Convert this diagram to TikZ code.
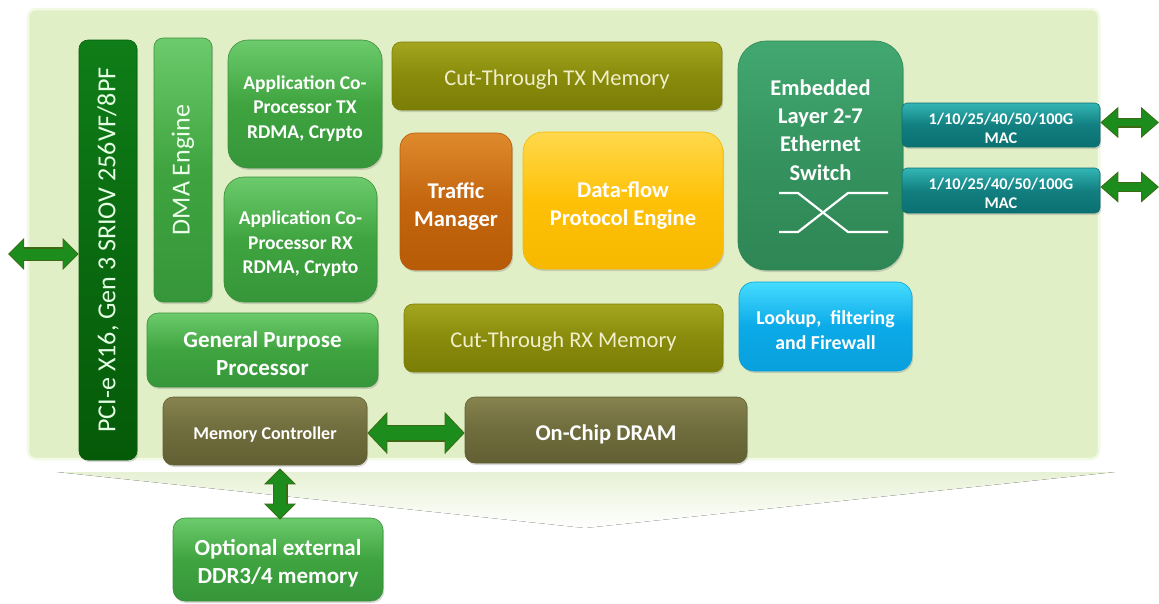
\documentclass[tikz,border=0pt]{standalone}
\usepackage{fontspec}
\setmainfont{Carlito}
\usetikzlibrary{arrows.meta,shadows,calc}

% palette
\definecolor{panelFill}{HTML}{E1EFC6}
\definecolor{panelEdge}{HTML}{F2F9E4}
\definecolor{funnelTop}{HTML}{E7F1D5}
\definecolor{gTop}{HTML}{6CCB6C}
\definecolor{gMid}{HTML}{3FA43F}
\definecolor{gBot}{HTML}{36963A}
\definecolor{gEdge}{HTML}{3B8F3B}
\definecolor{pTop}{HTML}{0F7D18}
\definecolor{pMid}{HTML}{0A6A10}
\definecolor{pBot}{HTML}{055A08}
\definecolor{oTop}{HTML}{A3A61E}
\definecolor{oMid}{HTML}{888B0B}
\definecolor{oBot}{HTML}{7B7E06}
\definecolor{bTop}{HTML}{86834F}
\definecolor{bMid}{HTML}{6F6C3D}
\definecolor{bBot}{HTML}{625F33}
\definecolor{tTop}{HTML}{DE8A2C}
\definecolor{tMid}{HTML}{C4660E}
\definecolor{tBot}{HTML}{B75B08}
\definecolor{yTop}{HTML}{FFD84C}
\definecolor{yMid}{HTML}{FFC107}
\definecolor{yBot}{HTML}{F7B800}
\definecolor{sTop}{HTML}{42A870}
\definecolor{sMid}{HTML}{35935F}
\definecolor{sBot}{HTML}{2E8655}
\definecolor{mTop}{HTML}{33B5B5}
\definecolor{mMid}{HTML}{127F80}
\definecolor{mBot}{HTML}{0B7071}
\definecolor{lTop}{HTML}{45DCFF}
\definecolor{lMid}{HTML}{0BAAE8}
\definecolor{lBot}{HTML}{08A0DC}
\definecolor{memText}{HTML}{F1EFCB}
\definecolor{arrFill}{HTML}{1C8C1C}
\definecolor{arrEdge}{HTML}{3C6A14}

\newcommand\fsz[2]{\fontsize{#1}{#2}\selectfont}
% invisible strut that lowers a block of text inside its box
\newcommand\lift[1]{\rule{0pt}{#1em}}

\tikzset{
  base/.style={inner sep=0pt, align=center, text=white, line width=0.6pt,
    drop shadow={shadow xshift=1.2pt, shadow yshift=-2pt, opacity=0.3}},
  greenbox/.style={base, draw=gEdge, top color=gTop, bottom color=gBot, middle color=gMid},
  pciebar/.style={base, draw=pBot, top color=pTop, bottom color=pBot, middle color=pMid},
  olivebox/.style={base, draw=oBot, top color=oTop, bottom color=oBot, middle color=oMid, text=memText},
  brownbox/.style={base, draw=bBot, top color=bTop, bottom color=bBot, middle color=bMid},
  orangebox/.style={base, draw=tBot, top color=tTop, bottom color=tBot, middle color=tMid},
  yellowbox/.style={base, draw=yBot, top color=yTop, bottom color=yBot, middle color=yMid},
  switchbox/.style={base, draw=sBot, top color=sTop, bottom color=sBot, middle color=sMid},
  macbox/.style={base, draw=mBot, top color=mTop, bottom color=mBot, middle color=mMid},
  lookbox/.style={base, draw=lBot, top color=lTop, bottom color=lBot, middle color=lMid},
  arrout/.style={draw=arrEdge, line width=#1},
  arrin/.style={draw=arrFill, line width=#1, shorten <=1.3pt, shorten >=1.3pt},
  switchline/.style={draw=white, line width=2.2pt},
}

\begin{document}
\begin{tikzpicture}[x=1pt, y=-1pt]
\useasboundingbox (0,0) rectangle (1159,603);

% soft funnel below the chip outline
\fill[top color=funnelTop, bottom color=white] (57,472) -- (1115,472) -- (585,528) -- cycle;

% chip outline
\draw[panelEdge, line width=2.5pt, fill=panelFill, rounded corners=8pt] (28,9) rectangle (1099,459);

% host side
\node[pciebar, rounded corners=9pt, minimum width=58pt, minimum height=420pt] (pcie) at (108,250) {};
\node[rotate=90, text=white!90!green, font=\fsz{26}{30}] (pcietxt) at (pcie.center) {PCI-e X16, Gen 3 SRIOV 256VF/8PF};

\node[greenbox, rounded corners=9pt, minimum width=58pt, minimum height=264pt] (dma) at (183,170) {};
\node[rotate=90, text=white!92!green, font=\fsz{26}{30}] (dmatxt) at (dma.center) {DMA Engine};

\node[greenbox, rounded corners=20pt, minimum width=154pt, minimum height=128pt,
  font=\bfseries\fsz{19.5}{24.5}] (apptx) at (305,104) {\lift{1.15}Application Co-\\Processor TX\\RDMA, Crypto};
\node[greenbox, rounded corners=20pt, minimum width=153pt, minimum height=125pt,
  font=\bfseries\fsz{19.5}{24.5}] (apprx) at (300.5,239.5) {\lift{1.15}Application Co-\\Processor RX\\RDMA, Crypto};

\node[greenbox, rounded corners=11pt, minimum width=231pt, minimum height=74pt,
  font=\bfseries\fsz{23}{28}] (gpp) at (262.5,350) {\lift{1.02}General Purpose\\Processor};

\node[brownbox, rounded corners=10pt, minimum width=204pt, minimum height=68pt,
  font=\bfseries\fsz{18}{22}] (mc) at (265,431) {\lift{1.15}Memory Controller};

\node[greenbox, rounded corners=12pt, minimum width=210pt, minimum height=83pt,
  font=\bfseries\fsz{23}{28}] (ext) at (278,559.5) {\lift{1.05}Optional external\\DDR3/4 memory};

% packet path
\node[olivebox, rounded corners=9pt, minimum width=330pt, minimum height=68pt,
  font=\fsz{22.5}{27}] (cuttx) at (557,76) {\lift{1.0}Cut-Through TX Memory};

\node[orangebox, rounded corners=15pt, minimum width=112pt, minimum height=137pt,
  font=\bfseries\fsz{22.5}{28}] (tm) at (456,201.5) {\lift{1.15}Traffic\\Manager};

\node[yellowbox, rounded corners=20pt, minimum width=200pt, minimum height=137pt,
  font=\bfseries\fsz{22.5}{28}] (df) at (623,200.5) {\lift{1.15}Data-flow\\Protocol Engine};

\node[olivebox, rounded corners=9pt, minimum width=319pt, minimum height=68pt,
  font=\fsz{22.5}{27}] (cutrx) at (563.5,338) {\lift{1.0}Cut-Through RX Memory};

\node[brownbox, rounded corners=10pt, minimum width=282pt, minimum height=66pt,
  font=\bfseries\fsz{22.5}{27}] (dram) at (606,430) {\lift{1.1}On-Chip DRAM};

% network side
\node[switchbox, rounded corners=28pt, minimum width=165pt, minimum height=229pt] (sw) at (820.5,155.5) {};
\node[text=white, align=center, font=\bfseries\fsz{22.5}{28.3}] (swtxt) at (820.5,130) {Embedded\\Layer 2-7\\Ethernet\\Switch};
\draw[switchline] (779,193) -- (798,193) -- (848,232) -- (888,232);
\draw[switchline] (779,232) -- (798,232) -- (848,193) -- (888,193);

\node[macbox, rounded corners=5pt, minimum width=198pt, minimum height=44pt,
  font=\bfseries\fsz{16.3}{19}] (mac1) at (1001,125) {\lift{1.1}1/10/25/40/50/100G\\MAC};
\node[macbox, rounded corners=5pt, minimum width=198pt, minimum height=45pt,
  font=\bfseries\fsz{16.3}{19}] (mac2) at (1001,190.5) {\lift{1.1}1/10/25/40/50/100G\\MAC};

\node[lookbox, rounded corners=15pt, minimum width=173pt, minimum height=89pt,
  font=\bfseries\fsz{19.8}{25}] (lookup) at (825.5,326.5) {\lift{1.05}Lookup,\ \ filtering\\and Firewall};

% free ends of the external links
\coordinate (host) at (8,254);
\coordinate (port1) at (1159,122.5);
\coordinate (port2) at (1159,187);

% bidirectional links
\draw[arrout=14pt, {Triangle[length=16pt 0, width=31pt 0]}-{Triangle[length=16pt 0, width=31pt 0]}]
  (host) -- (pcie.west |- host);
\draw[arrin=11pt, {Triangle[length=14pt 0, width=27pt 0]}-{Triangle[length=14pt 0, width=27pt 0]}]
  (host) -- (pcie.west |- host);

\draw[arrout=17pt, {Triangle[length=20pt 0, width=41pt 0]}-{Triangle[length=20pt 0, width=41pt 0]}]
  (mc.east |- 0,433) -- (dram.west |- 0,433);
\draw[arrin=14pt, {Triangle[length=18pt 0, width=37pt 0]}-{Triangle[length=18pt 0, width=37pt 0]}]
  (mc.east |- 0,433) -- (dram.west |- 0,433);

\draw[arrout=15pt, {Triangle[length=16pt 0, width=31pt 0]}-{Triangle[length=16pt 0, width=31pt 0]}]
  ($(ext.north |- mc.south)+(2,3)$) -- ($(ext.north)+(2,2)$);
\draw[arrin=12pt, {Triangle[length=14pt 0, width=27pt 0]}-{Triangle[length=14pt 0, width=27pt 0]}]
  ($(ext.north |- mc.south)+(2,3)$) -- ($(ext.north)+(2,2)$);

\draw[arrout=10pt, {Triangle[length=18pt 0, width=30pt 0]}-{Triangle[length=18pt 0, width=30pt 0]}]
  (mac1.east |- port1) -- (port1);
\draw[arrin=7.5pt, {Triangle[length=16pt 0, width=26pt 0]}-{Triangle[length=16pt 0, width=26pt 0]}]
  (mac1.east |- port1) -- (port1);

\draw[arrout=10pt, {Triangle[length=18pt 0, width=30pt 0]}-{Triangle[length=18pt 0, width=30pt 0]}]
  (mac2.east |- port2) -- (port2);
\draw[arrin=7.5pt, {Triangle[length=16pt 0, width=26pt 0]}-{Triangle[length=16pt 0, width=26pt 0]}]
  (mac2.east |- port2) -- (port2);
\end{tikzpicture}
\end{document}
